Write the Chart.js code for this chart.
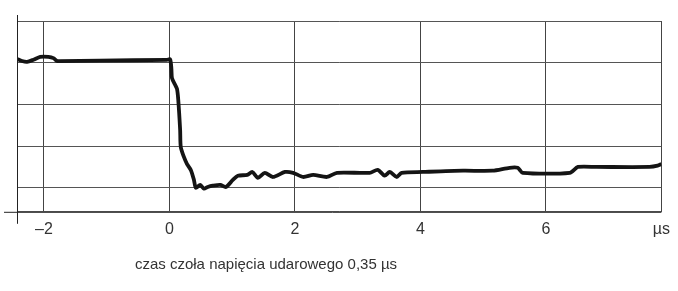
<!DOCTYPE html>
<html>
<head>
<meta charset="utf-8">
<script src="https://cdn.jsdelivr.net/npm/chart.js@4/dist/chart.umd.min.js"></script>
<style>
  html, body { margin: 0; padding: 0; background: #fff; }
  #wrap { width: 678px; height: 291px; }
</style>
</head>
<body>
<div id="wrap"><canvas id="udarChart" width="678" height="291"></canvas></div>
<script>
// czas [µs] i napięcie (jednostki umowne, linie siatki co 1)
const timeUs = [-2.43, -2.35, -2.27, -2.17, -2.06, -1.93, -1.85, -1.79, -1.74, -1.11, -0.04,
  0.01, 0.03, 0.04, 0.09, 0.12, 0.14, 0.17, 0.18, 0.23, 0.28, 0.34, 0.39, 0.42,
  0.49, 0.55, 0.61, 0.69, 0.81, 0.90, 1.01, 1.09, 1.24, 1.32, 1.41, 1.52, 1.65, 1.84, 1.97,
  2.13, 2.29, 2.51, 2.67, 3.19, 3.32, 3.43, 3.51, 3.62, 3.70, 4.04, 4.68, 5.15, 5.42, 5.55,
  5.63, 6.38, 6.51, 6.81, 7.65, 7.78, 7.84];
const voltage = [4.09, 4.04, 4.02, 4.07, 4.14, 4.14, 4.11, 4.04, 4.04, 4.05, 4.07,
  4.08, 3.87, 3.63, 3.47, 3.37, 3.11, 2.39, 1.98, 1.74, 1.57, 1.43, 1.19, 1.00,
  1.07, 0.98, 1.02, 1.05, 1.07, 1.02, 1.19, 1.29, 1.31, 1.38, 1.24, 1.36, 1.26, 1.38, 1.36,
  1.26, 1.31, 1.26, 1.36, 1.36, 1.43, 1.29, 1.38, 1.26, 1.36, 1.38, 1.41, 1.41, 1.48, 1.48,
  1.36, 1.36, 1.50, 1.50, 1.50, 1.53, 1.57];

const xTicks = [-2, 0, 2, 4, 6];
const yGrid = [1, 2, 3, 4, 5];
const xUnit = 'µs';
const caption = 'czas czoła napięcia udarowego 0,35 µs';

const xMin = -2.43, xMax = 7.84, yMin = 0.425, yMax = 5;
const FONT = '"Liberation Sans", Arial, Helvetica, sans-serif';

// osie wystajace poza obszar wykresu + podpis pod osia
const axesPlugin = {
  id: 'axesPlugin',
  afterDraw(chart) {
    const { ctx, chartArea: a } = chart;
    ctx.save();
    ctx.strokeStyle = '#222';
    ctx.lineWidth = 1;
    ctx.beginPath();
    ctx.moveTo(a.left + 0.5, a.top - 6);
    ctx.lineTo(a.left + 0.5, a.bottom + 12);
    ctx.moveTo(a.left - 13, a.bottom + 0.5);
    ctx.lineTo(a.right, a.bottom + 0.5);
    ctx.stroke();
    ctx.fillStyle = '#333';
    ctx.font = '15px ' + FONT;
    ctx.textAlign = 'center';
    ctx.textBaseline = 'middle';
    ctx.fillText(caption, 266, 265);
    ctx.restore();
  }
};

const points = timeUs.map((t, i) => ({ x: t, y: voltage[i] }));

new Chart(document.getElementById('udarChart').getContext('2d'), {
  type: 'line',
  data: {
    datasets: [{
      data: points,
      borderColor: '#141414',
      borderWidth: 3.8,
      pointRadius: 0,
      tension: 0.25,
      fill: false
    }]
  },
  options: {
    responsive: false,
    animation: false,
    layout: { padding: { left: 17, right: 16, top: 21, bottom: 44 } },
    plugins: { legend: { display: false }, tooltip: { enabled: false } },
    scales: {
      x: {
        type: 'linear',
        min: xMin,
        max: xMax,
        afterBuildTicks: (s) => { s.ticks = [xMin, ...xTicks, xMax].map(v => ({ value: v })); },
        grid: { color: '#444', lineWidth: 1, drawTicks: false },
        border: { display: false },
        ticks: {
          padding: 8,
          color: '#333',
          font: { family: FONT, size: 16 },
          maxRotation: 0,
          autoSkip: false,
          callback: (v) => {
            if (v === xMax) return xUnit;
            if (v === xMin) return '';
            return v < 0 ? '–' + Math.abs(v) : String(v);
          }
        }
      },
      y: {
        type: 'linear',
        min: yMin,
        max: yMax,
        afterBuildTicks: (s) => { s.ticks = [yMin, ...yGrid].map(v => ({ value: v })); },
        grid: { color: '#555', lineWidth: 1, drawTicks: false },
        border: { display: false },
        ticks: { display: false }
      }
    }
  },
  plugins: [axesPlugin]
});
</script>
</body>
</html>
